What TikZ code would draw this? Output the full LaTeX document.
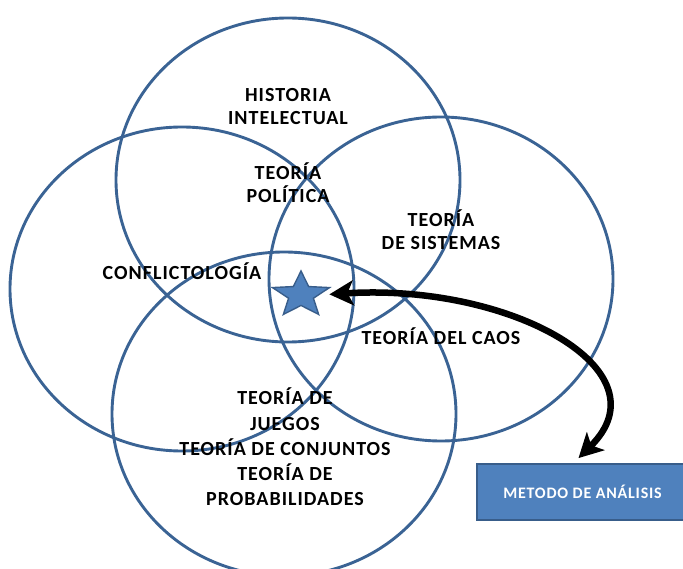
\documentclass[tikz,border=0pt]{standalone}
\usepackage{fontspec}
\setmainfont{Carlito}
\newfontfamily\spaced[LetterSpace=5]{Carlito}
\usetikzlibrary{shapes,arrows.meta}
\definecolor{ringblue}{HTML}{3A6394}
\definecolor{fillblue}{HTML}{4F81BD}
\definecolor{edgeblue}{HTML}{385D8A}

\begin{document}
\begin{tikzpicture} [x=1pt,y=-1pt]
\tikzstyle{every node}=[font=\spaced\bfseries\fontsize{20}{23}\selectfont, align=center, inner sep=0pt]
\tikzstyle{ring}=[draw=ringblue, line width=2.9pt]

\newcommand{\rx}{172pt}
\newcommand{\ry}{162pt}

\useasboundingbox (0,0) rectangle (683,569);

\path (288,180) coordinate (c1);
\path (182,289) coordinate (c2);
\path (441,279) coordinate (c3);
\path (284,414) coordinate (c4);

\foreach \Point in {(c1),(c2),(c3),(c4)}{
    \draw[ring] \Point ellipse [x radius=\rx, y radius=\ry];
}

\path (c1) +(0,-73) node (hist) {HISTORIA\\INTELECTUAL};
\path (c1) +(0,3) node (pol) {TEORÍA\\POLÍTICA};
\path (c3) +(0,-49) node (sist) {TEORÍA\\DE SISTEMAS};
\path (c2) +(0,-18) node (confl) {CONFLICTOLOGÍA};
\path (c3) +(0,57) node (caos) {TEORÍA DEL CAOS};
\path (c4) +(1,33) node[font=\spaced\bfseries\fontsize{20}{25.3}\selectfont] (conj)
{TEORÍA DE\\JUEGOS\\TEORÍA DE CONJUNTOS\\TEORÍA DE\\PROBABILIDADES};

\node[star, star points=5, star point ratio=2.3, minimum size=60pt, yscale=0.8,
      fill=fillblue, draw=edgeblue, line width=1.4pt] (star) at (301,295) {};

\node[draw=edgeblue, fill=fillblue, line width=2pt, minimum width=211pt,
      minimum height=56pt, text=white, font=\spaced\bfseries\fontsize{16}{18}\selectfont]
      (box) at (582.5,492) {METODO DE ANÁLISIS};

\draw[line width=6.5pt, {Stealth[length=24pt,width=25pt,inset=6pt]}-{Stealth[length=24pt,width=25pt,inset=6pt]},
      shorten <=10pt, shorten >=7pt]
      (star.east) .. controls (510,283) and (668,370) .. ([xshift=-9pt]box.north);
\end{tikzpicture}
\end{document}
